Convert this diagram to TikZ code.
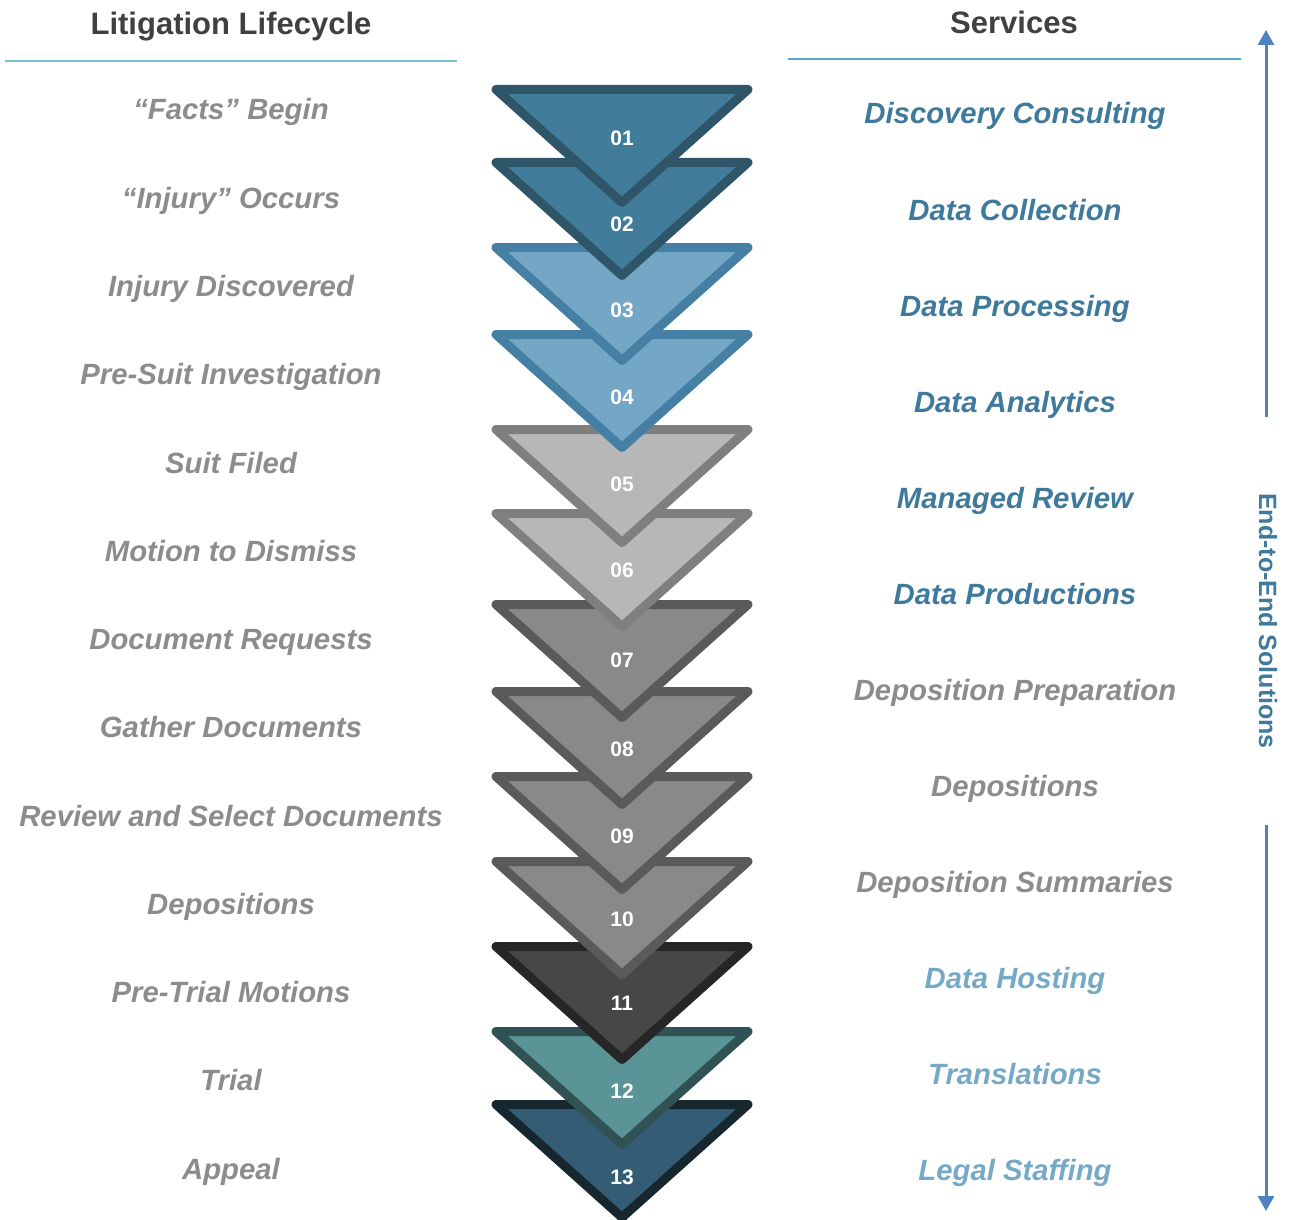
\documentclass[tikz,border=0pt]{standalone}
\usepackage{fontspec}
\setmainfont{Liberation Sans}
\usetikzlibrary{arrows.meta}

\definecolor{hdrgray}{HTML}{404040}
\definecolor{stepgray}{HTML}{8C8C8C}
\definecolor{svcdeep}{HTML}{3F7A9C}
\definecolor{svclight}{HTML}{76A9C6}
\definecolor{flowblue}{HTML}{4F81BD}
\definecolor{ruleleft}{HTML}{7CC0D0}
\definecolor{ruleright}{HTML}{5AA6C8}
% triangle colours
\definecolor{deepfill}{HTML}{427C9B}  \definecolor{deepedge}{HTML}{2F5569}
\definecolor{paleblfill}{HTML}{74A7C6} \definecolor{palebledge}{HTML}{4580A4}
\definecolor{silverfill}{HTML}{B7B7B7} \definecolor{silveredge}{HTML}{7F7F7F}
\definecolor{greyfill}{HTML}{898989}  \definecolor{greyedge}{HTML}{5A5A5A}
\definecolor{darkfill}{HTML}{474747}  \definecolor{darkedge}{HTML}{262626}
\definecolor{tealfill}{HTML}{5A9496}  \definecolor{tealedge}{HTML}{305254}
\definecolor{navyfill}{HTML}{345C75}  \definecolor{navyedge}{HTML}{17272F}

\tikzset{
  hdr/.style={text=hdrgray, font=\fontsize{31}{36}\selectfont\bfseries, anchor=base},
  lifestep/.style={text=stepgray, font=\fontsize{29.3}{34}\selectfont\bfseries\itshape, anchor=base},
  svc/.style={font=\fontsize{29.3}{34}\selectfont\bfseries\itshape, anchor=base},
}

\begin{document}
\begin{tikzpicture}[x=1pt, y=-1pt,
    tri/.style={line width=9pt, line join=round},
    num/.style={text=white, font=\fontsize{21}{25}\selectfont\bfseries},
    flow/.style={flowblue, line width=3pt, -{Triangle[width=16pt,length=15pt]}}]
  \useasboundingbox (0,0) rectangle (1296,1220);

  % headers
  \node[hdr] (lifehdr) at (231,35) {Litigation Lifecycle};
  \node[hdr] (svchdr) at (1014,34) {Services};
  \draw[ruleleft, line width=1.5pt] (5,61) -- (457,61);
  \draw[ruleright, line width=1.5pt] (788,59) -- (1241,59);

  % stacked triangles, bottom one first
  \foreach \ytop/\ylbl/\num/\clr in {1100/1177/13/navy, 1027/1091/12/teal,
      942/1003/11/dark, 857/919/10/grey, 772/836/09/grey, 687/749/08/grey,
      600/660/07/grey, 509/570/06/silver, 425/484/05/silver, 330/397/04/palebl,
      243/310/03/palebl, 158/224/02/deep, 85/138/01/deep} {
    \draw[tri, draw=\clr edge, fill=\clr fill]
      (496,\ytop+4.5) -- (748,\ytop+4.5) -- (622,\ytop+117.5) -- cycle;
    \node[num] (t\num) at (622,\ylbl) {\num};
  }

  % lifecycle steps
  \foreach \txt [count=\i from 0] in {“Facts” Begin, “Injury” Occurs,
      Injury Discovered, Pre-Suit Investigation, Suit Filed, Motion to Dismiss,
      Document Requests, Gather Documents, Review and Select Documents,
      Depositions, Pre-Trial Motions, Trial, Appeal}
    \node[lifestep] (life\i) at (231,120+88.25*\i) {\txt};

  % services
  \foreach \txt/\clr [count=\i from 0] in {Discovery Consulting/svcdeep,
      Data Collection/svcdeep, Data Processing/svcdeep, Data Analytics/svcdeep,
      Managed Review/svcdeep, Data Productions/svcdeep,
      Deposition Preparation/stepgray, Depositions/stepgray,
      Deposition Summaries/stepgray, Data Hosting/svclight,
      Translations/svclight, Legal Staffing/svclight}
    \node[svc, text=\clr] (svc\i) at (1015,124+96*\i) {\txt};

  % end-to-end arrows
  \node[rotate=-90, text=svcdeep, font=\fontsize{25}{30}\selectfont\bfseries] (e2e) at (1268,621) {End-to-End Solutions};
  \coordinate (upfrom) at (1266,417);
  \coordinate (upto) at (1266,30);
  \coordinate (downfrom) at (1266,825);
  \coordinate (downto) at (1266,1211);
  \draw[flow] (upfrom) -- (upto);
  \draw[flow] (downfrom) -- (downto);
\end{tikzpicture}
\end{document}
